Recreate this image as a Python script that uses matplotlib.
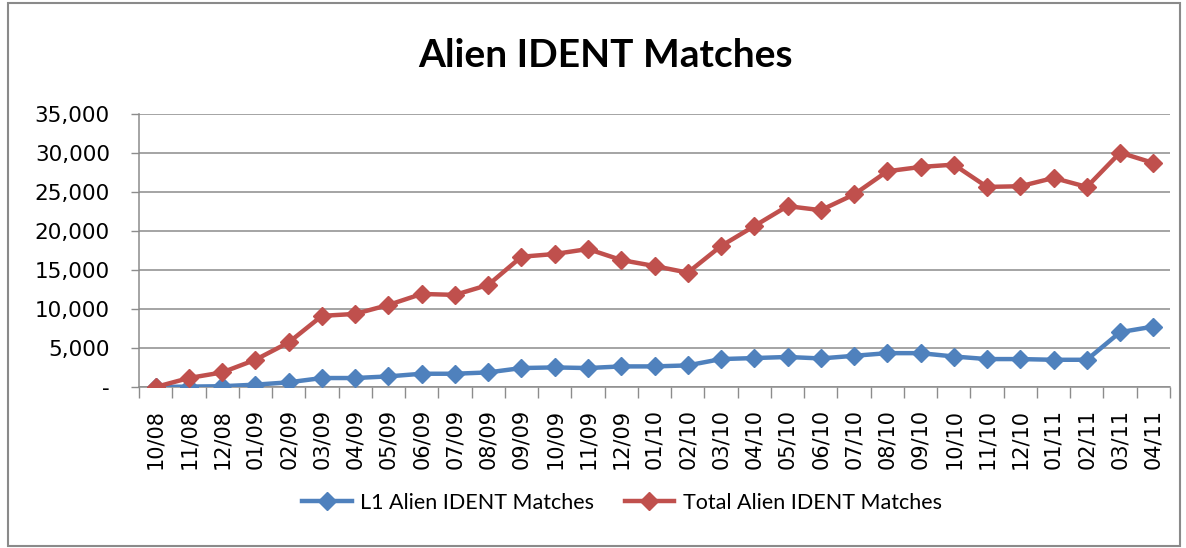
import matplotlib
matplotlib.use("Agg")
import matplotlib.pyplot as plt
from matplotlib.patches import Rectangle
from matplotlib.ticker import FuncFormatter, FixedLocator
import numpy as np

# months as shown on the x axis (mm/yy)
months = ["10/08", "11/08", "12/08", "01/09", "02/09", "03/09", "04/09", "05/09",
          "06/09", "07/09", "08/09", "09/09", "10/09", "11/09", "12/09", "01/10",
          "02/10", "03/10", "04/10", "05/10", "06/10", "07/10", "08/10", "09/10",
          "10/10", "11/10", "12/10", "01/11", "02/11", "03/11", "04/11"]

l1_matches = [0, 50, 100, 300, 600, 1150, 1150, 1360, 1700, 1700, 1870, 2430,
              2510, 2430, 2640, 2640, 2770, 3580, 3710, 3850, 3660, 4000, 4340,
              4340, 3910, 3580, 3580, 3490, 3490, 7030, 7750]

total_matches = [0, 1150, 1870, 3490, 5710, 9120, 9370, 10520, 11930, 11810,
                 13090, 16700, 17050, 17690, 16280, 15510, 14660, 18070, 20630,
                 23190, 22670, 24680, 27660, 28210, 28510, 25650, 25740, 26800,
                 25650, 30050, 28720]

blue = "#4F81BD"
red = "#C0504D"
grid_col = "#8C8C8C"

W, H = 1186, 548
fig = plt.figure(figsize=(W / 100, H / 100), dpi=100)

# chart area border
fig.patches.append(Rectangle((8 / W, 1 - 546 / H), 1172 / W, 543 / H,
                             transform=fig.transFigure, fill=False,
                             edgecolor="#8A8A8A", linewidth=1.5))

ax = fig.add_axes([139 / W, 1 - 387 / H, (1170 - 139) / W, (387 - 114) / H])

x = np.arange(len(months))
l_l1, = ax.plot(x, l1_matches, color=blue, lw=3.2, marker="D", ms=9,
                label="L1 Alien IDENT Matches", zorder=3)
l_tot, = ax.plot(x, total_matches, color=red, lw=3.2, marker="D", ms=9,
                 label="Total Alien IDENT Matches", zorder=3)

ax.set_xlim(-0.5, len(months) - 0.5)
ax.set_ylim(0, 35000)
ax.set_yticks(np.arange(0, 35001, 5000))
ax.yaxis.set_major_formatter(FuncFormatter(lambda v, p: "-" if v == 0 else f"{int(v):,}"))
ax.grid(axis="y", color=grid_col, lw=1.1)
ax.set_axisbelow(True)

ax.set_xticks(x)
ax.set_xticklabels(months, rotation=90)
ax.xaxis.set_minor_locator(FixedLocator(np.arange(-0.5, len(months), 1)))
ax.tick_params(axis="x", which="major", length=0, pad=16, labelsize=15)
ax.tick_params(axis="x", which="minor", length=8, color=grid_col, width=1)
ax.tick_params(axis="y", length=6, color=grid_col, width=1, pad=15, labelsize=15.5)

for s in ["top", "right"]:
    ax.spines[s].set_visible(False)
for s in ["left", "bottom"]:
    ax.spines[s].set_color(grid_col)
    ax.spines[s].set_linewidth(1.1)

fig.text(605 / W, 1 - 67 / H, "Alien IDENT Matches", ha="center", va="baseline",
         fontsize=28, fontweight="bold", family="Lato")

fig.legend(handles=[l_l1, l_tot], loc="center", bbox_to_anchor=(622 / W, 1 - 503 / H),
           ncol=2, frameon=False, prop={"family": "Lato", "size": 15.5},
           handlelength=2.3, handletextpad=0.4, columnspacing=1.4)

fig.savefig("out.png", dpi=100)
